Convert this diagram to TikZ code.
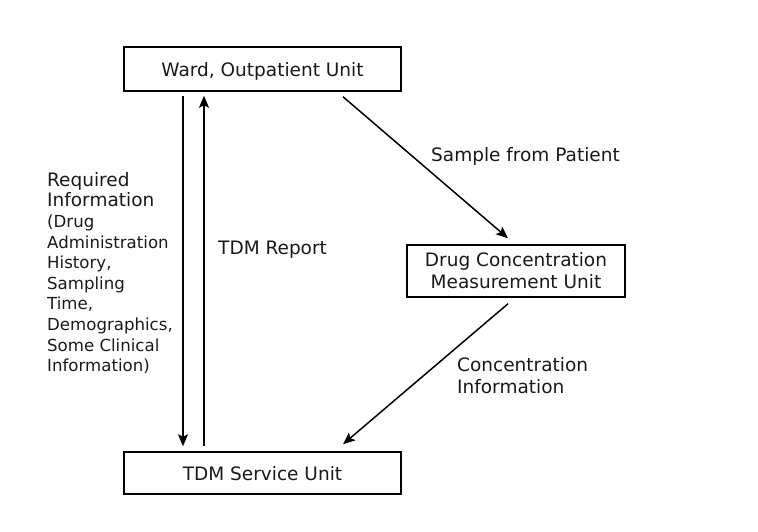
\documentclass[tikz,border=0pt]{standalone}
\usepackage{fontspec}
\setmainfont{DejaVu Sans}
\usetikzlibrary{arrows.meta}
\begin{document}
\begin{tikzpicture}[x=1pt,y=-1pt,
  box/.style={draw, line width=1.5pt, inner sep=0pt, align=center,
    font=\fontsize{18.5}{22}\selectfont, text=black!90},
  onebox/.style={box, text height=15.5pt, text depth=0pt},
  arr/.style={line width=1.5pt, -{Stealth[length=12pt,width=10pt,inset=2.5pt]}},
  lbl/.style={inner sep=0pt, align=left, font=\fontsize{18.5}{22}\selectfont, text=black!90}]
\useasboundingbox (0,0) rectangle (758,532);
\node[onebox, minimum width=277pt, minimum height=44pt] (ward) at (262.5,69) {Ward, Outpatient Unit};
\node[box, minimum width=218pt, minimum height=52pt] (drug) at (516,271) {Drug Concentration\\Measurement Unit};
\node[onebox, minimum width=277pt, minimum height=42pt] (tdm) at (262.5,473) {TDM Service Unit};

\draw[arr] ([xshift=-79.5pt,yshift=-4pt]ward.south) -- ([xshift=-79.5pt,yshift=5pt]tdm.north);
\draw[arr] ([xshift=-58.5pt,yshift=5pt]tdm.north) -- ([xshift=-58.5pt,yshift=-4pt]ward.south);
\draw[arr] ([xshift=80.5pt,yshift=-5pt]ward.south) -- ([xshift=-8pt,yshift=6pt]drug.north);
\draw[arr] ([xshift=-8pt,yshift=-6pt]drug.south) -- ([xshift=80.5pt,yshift=7pt]tdm.north);

\node[lbl, anchor=base west] (sample) at (431,161) {Sample from Patient};
\node[lbl, anchor=base west] (report) at (218,254) {TDM Report};
\node[lbl, anchor=north west, font=\fontsize{18.5}{22}\selectfont] (conc) at (457,357) {Concentration\\Information};
\node[lbl, anchor=north west, font=\fontsize{16.6}{20.6}\selectfont] (req) at (47,172)
  {{\fontsize{18.5}{20.6}\selectfont Required}\\{\fontsize{18.5}{20.6}\selectfont Information}\\(Drug\\Administration\\History,\\Sampling\\Time,\\Demographics,\\Some Clinical\\Information)};
\end{tikzpicture}
\end{document}
